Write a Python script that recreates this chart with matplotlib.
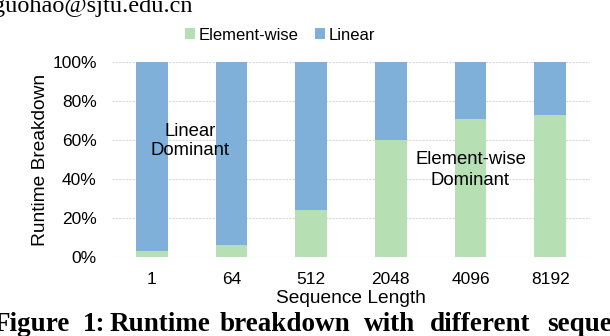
import numpy as np
import matplotlib.pyplot as plt

seq_len = ['1', '64', '512', '2048', '4096', '8192']
elementwise = [3, 6, 24, 60, 71, 73]
linear = [100 - v for v in elementwise]

green = '#b6e0b3'
blue = '#7fb0da'

plt.rcParams['font.family'] = ['Liberation Sans', 'DejaVu Sans']

fig = plt.figure(figsize=(6.1, 3.36), dpi=100)
ax = fig.add_axes([112 / 610, 1 - 257 / 336, 478 / 610, 195 / 336])

x = np.arange(len(seq_len))
ax.bar(x, elementwise, width=0.4, color=green, label='Element-wise', zorder=3)
ax.bar(x, linear, width=0.4, bottom=elementwise, color=blue, label='Linear', zorder=3)

ax.set_xlim(-0.5, len(seq_len) - 0.5)
ax.set_ylim(0, 100)
ax.set_yticks(range(0, 101, 20))
ax.set_yticklabels(['%d%%' % v for v in range(0, 101, 20)], fontsize=12.5)
ax.set_xticks(x)
ax.set_xticklabels(seq_len, fontsize=12.5)
ax.tick_params(axis='y', length=0, pad=11)
ax.tick_params(axis='x', length=0, pad=11)
ax.grid(axis='y', color='#d9d9d9', linewidth=0.8, linestyle=(0, (2, 1)), zorder=0)
for s in ax.spines.values():
    s.set_visible(False)

ax.set_ylabel('Runtime Breakdown', fontsize=13.8, labelpad=2)
ax.set_xlabel('Sequence Length', fontsize=13.8, labelpad=2)

ax.text(0.48, 59.5, 'Linear\nDominant', ha='center', va='center', fontsize=13.3, linespacing=1.2, zorder=4)
ax.text(4.0, 44.6, 'Element-wise\nDominant', ha='center', va='center', fontsize=13.3, linespacing=1.25, zorder=4)

fig.legend(loc='center', bbox_to_anchor=(0.459, 1 - 35 / 336), ncol=2, frameon=False,
           fontsize=12, handlelength=0.6, handleheight=0.6, handletextpad=0.2,
           columnspacing=1.0)

# paper text cut off by the crop
fig.text(-0.012, 1 - 12 / 336, 'guohao@sjtu.edu.cn', fontsize=17.5, family='Liberation Serif',
         va='baseline', ha='left')
caption = [('Figure', 70, 'right'), ('1:', 83, 'left'), ('Runtime', 110, 'left'),
           ('breakdown', 220, 'left'), ('with', 364, 'left'), ('different', 430, 'left'),
           ('sequence', 547, 'left')]
for word, px, ha in caption:
    fig.text(px / 610, 1 - 331 / 336, word, fontsize=19.5, family='Liberation Serif',
             weight='bold', va='baseline', ha=ha)

fig.savefig('out.png', dpi=100)
